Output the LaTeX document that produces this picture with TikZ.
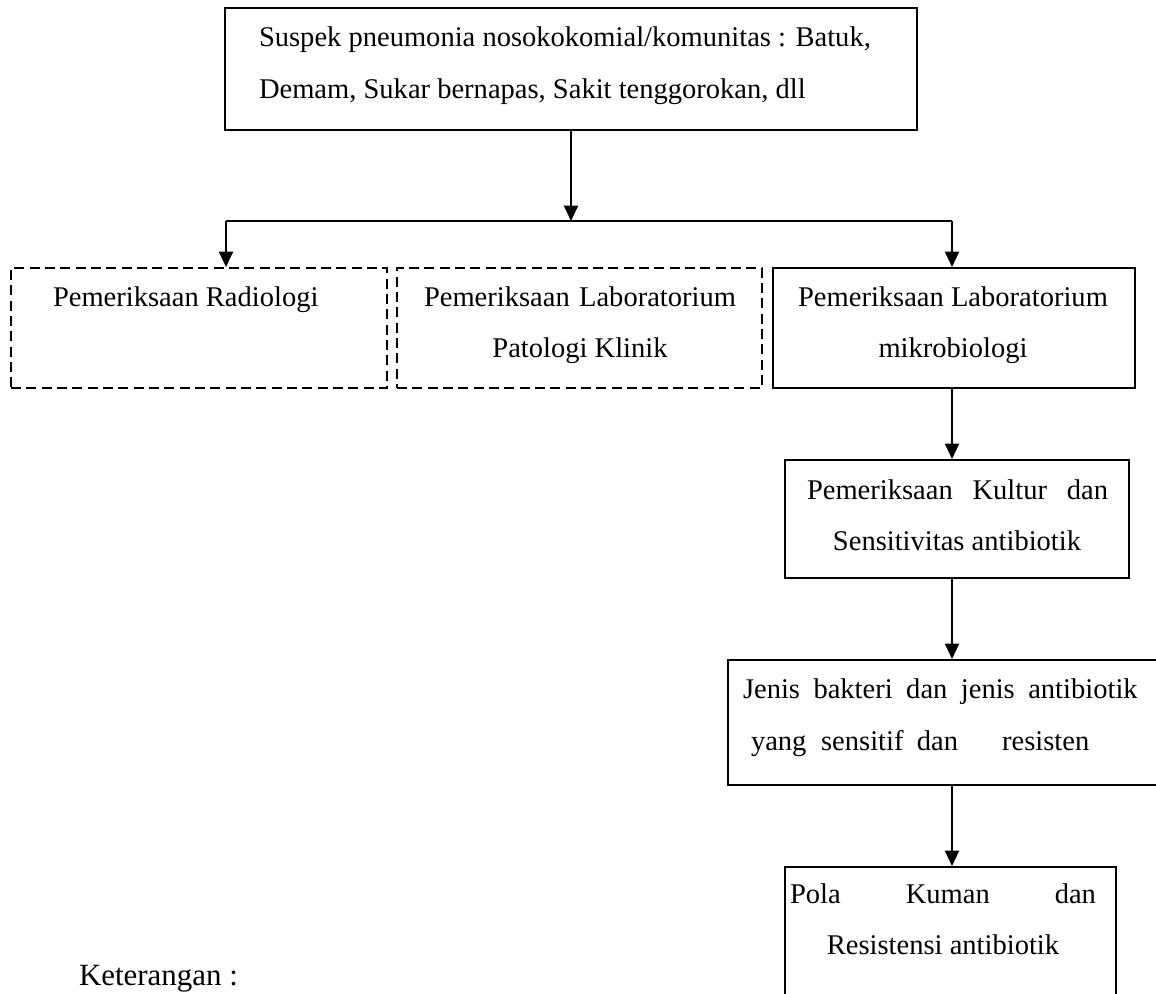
\documentclass[tikz,border=0pt]{standalone}
\usepackage{fontspec}
\setmainfont{Liberation Serif}
\usetikzlibrary{arrows.meta,fit}
\begin{document}
\begin{tikzpicture}[x=0.75pt,y=-0.75pt,
  line width=1.5pt,
  box/.style={draw, inner sep=0pt},
  dbox/.style={draw, dash pattern=on 7.5pt off 4pt, inner sep=0pt},
  txt/.style={inner sep=0pt, font=\fontsize{21.4pt}{26pt}\selectfont},
  arr/.style={-{Triangle[length=11.5pt,width=10.5pt]}}]
\useasboundingbox (0,0) rectangle (1156,993);
\clip (0,0) rectangle (1156,993);
% boxes
\node[box, fit={(225,8)(917,130)}] (top) {};
\node[dbox, fit={(11,268)(387,388)}] (b1) {};
\node[dbox, fit={(397,268)(762,388)}] (b2) {};
\node[box, fit={(773,268)(1135,388)}] (b3) {};
\node[box, fit={(785,460)(1129,578)}] (b4) {};
\node[box, fit={(728,660)(1175,785)}] (b5) {};
\node[box, fit={(785,867)(1116,1020)}] (b6) {};
% texts
\node[txt, anchor=base west] (t1) at (258,46) {Suspek pneumonia nosokokomial/komunitas : Batuk,};
\node[txt, anchor=base west] (t2) at (258,98) {Demam, Sukar bernapas, Sakit tenggorokan, dll};
\node[txt, anchor=base west] (r1) at (52,306) {Pemeriksaan Radiologi};
\node[txt, anchor=base] (p1) at (580,306) {Pemeriksaan\hspace{7pt}Laboratorium};
\node[txt, anchor=base] (p2) at (580,357) {Patologi Klinik};
\node[txt, anchor=base] (m1) at (953,306) {Pemeriksaan Laboratorium};
\node[txt, anchor=base] (m2) at (953,357) {mikrobiologi};
\node[txt, anchor=base west] (k1) at (806,499) {\makebox[225.75pt][s]{Pemeriksaan Kultur dan}};
\node[txt, anchor=base] (k2) at (957,550) {Sensitivitas antibiotik};
\node[txt, anchor=base west] (j1) at (742,698) {\makebox[296pt][s]{Jenis bakteri dan jenis antibiotik}};
\node[txt, anchor=base west] (j2) at (750,750) {yang\hspace{11pt}sensitif\hspace{10pt}dan\hspace{33pt}resisten};
\node[txt, anchor=base west] (q1) at (789,903) {\makebox[229.5pt][s]{Pola Kuman dan}};
\node[txt, anchor=base] (q2) at (943,954) {Resistensi antibiotik};
\node[inner sep=0pt, anchor=base west, font=\fontsize{23.2pt}{28pt}\selectfont] (ket) at (78,985) {Keterangan :};
% connectors
\coordinate (hl) at (226,221);
\coordinate (hm) at (571,221);
\coordinate (hr) at (952,221);
\draw[arr] (top.south) -- (hm);
\draw (hl) -- (hr);
\draw[arr] (hl) -- (hl |- b1.north);
\draw[arr] (hr) -- (hr |- b3.north);
\draw[arr] (b3.south -| hr) -- (b4.north -| hr);
\draw[arr] (b4.south -| hr) -- (b5.north -| hr);
\draw[arr] (b5.south -| hr) -- (b6.north -| hr);
\end{tikzpicture}
\end{document}
